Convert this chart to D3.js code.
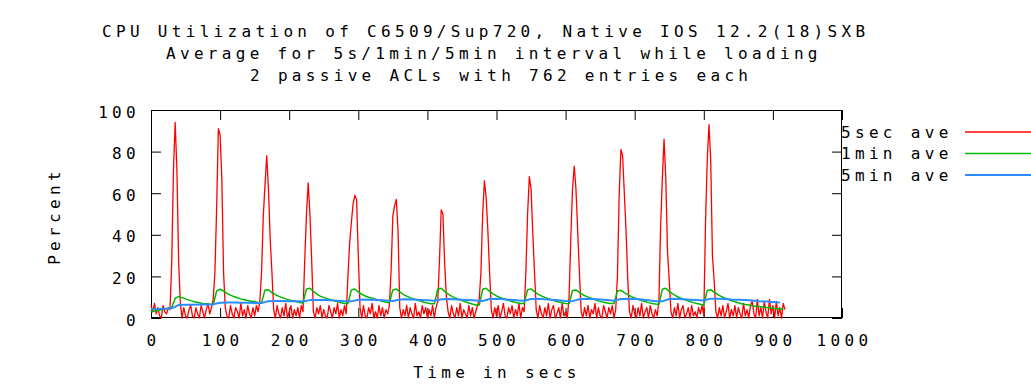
<!DOCTYPE html>
<html><head><meta charset="utf-8">
<script src="https://cdn.jsdelivr.net/npm/d3@7"></script>
<style>
html,body{margin:0;padding:0;background:#fff;}
svg{display:block;}
text{font-family:"DejaVu Sans Mono",monospace;font-size:16px;fill:#000;letter-spacing:4.32px;}
</style></head><body><svg id="c" width="1031" height="384"></svg>
<script>
const titleLines = [
  "CPU Utilization of C6509/Sup720, Native IOS 12.2(18)SXB",
  "Average for 5s/1min/5min interval while loading",
  "2 passive ACLs with 762 entries each"
];
const xLabel = "Time in secs";
const yLabel = "Percent";
const xTicks = [0,100,200,300,400,500,600,700,800,900,1000];
const xTickLabels = ["0","100","200","300","400","500","600","700","800","900","1000"];
const yTicks = [0,20,40,60,80,100];
const yTickLabels = ["0","20","40","60","80","100"];
const seriesNames = ["5sec ave","1min ave","5min ave"];
const seriesColors = ["#ff0000","#00b800","#2a8cff"];
const step5sec = 2.5, step1min = 5, step5min = 10;

// 5-second average, sampled every 2.5 s
const cpu5sec = [
 6,3,7,2,5,1,0,6,3,2,5,4,
 27,71,94,71,27,7,
 0,5,1,0,4,6,1,0,5,2,0,6,3,0,4,7,2,5,9,
 22,53,91,88,67,22,5,
 1,0,6,2,0,5,3,0,7,1,4,0,6,2,0,5,1,6,3,8,
 22,49,64,78,62,38,22,4,
 0,6,2,0,5,1,7,0,3,6,0,4,1,5,0,6,3,
 28,50,65,50,28,3,
 0,5,2,6,0,4,1,0,6,3,0,5,2,7,0,4,1,6,2,
 20,36,46,55,59,57,30,5,
 0,6,1,0,5,2,7,0,3,0,6,1,5,0,4,2,6,
 23,49,54,57,42,5,
 0,4,1,6,0,5,2,0,7,1,3,0,6,2,5,0,4,1,6,0,5,8,
 28,52,50,26,10,3,
 0,6,2,0,5,1,7,0,4,2,0,6,1,5,0,3,6,9,
 22,50,66,58,42,22,4,
 0,5,1,6,0,3,7,1,0,5,2,6,0,4,1,7,0,5,3,
 22,50,68,62,41,22,4,
 0,6,2,0,5,1,7,0,4,6,0,2,5,0,7,1,3,0,10,
 38,62,73,62,42,22,3,
 0,5,1,6,0,4,2,7,0,5,1,0,6,3,0,5,2,6,0,4,
 20,59,81,78,60,42,18,3,
 0,6,2,0,5,1,7,0,3,5,0,6,2,0,4,1,8,
 44,67,86,67,32,18,3,
 0,5,1,7,0,4,6,0,2,5,0,6,1,3,0,5,2,6,1,
 46,76,93,76,30,18,3,
 0,5,1,6,0,3,7,0,4,1,6,0,5,2,0,7,1,4,0,6,8,2,0,9,1,5,0,8,3,0,9,2,6,0,8,1,5,0,7,4
];

// 1-minute average, sampled every 5 s
const cpu1min = [
 3,3.2,3.6,4,4.3,4.6,5,
 9.5,10.3,9.8,9.2,8.6,8.1,7.7,7.3,7,6.8,6.6,6.5,
 13,13.8,13,11.8,11,10.3,9.7,9.2,8.8,8.4,8.1,7.8,7.5,7.3,
 13.5,13.6,12.2,11.2,10.4,9.8,9.2,8.7,8.3,7.9,7.5,7.2,
 14,14.3,12.8,11.5,10.5,9.8,9.3,8.8,8.3,7.8,7.3,7,7,
 13.5,13.9,12.5,11.4,10.6,10,9.5,9,8.5,8,7.6,7.3,
 13.5,13.9,12.6,11.4,10.5,9.8,9.2,8.6,8.1,7.6,7.2,6.9,6.8,
 13.8,14.3,12.8,11.5,10.5,9.7,9,8.4,7.8,7.2,6.7,6.3,6.2,
 13.8,14.3,12.8,11.6,10.6,9.9,9.3,8.7,8.2,7.7,7.3,7,7,
 13.6,14,12.6,11.5,10.6,9.9,9.3,8.7,8.2,7.7,7.3,7,6.9,
 13.2,13.5,12.3,11.2,10.4,9.7,9.1,8.5,8,7.6,7.2,7,7,
 13,13.3,12.2,11.2,10.3,9.6,9,8.4,7.9,7.4,7,6.7,6.5,
 13.8,14.3,12.8,11.6,10.6,9.8,9.1,8.5,7.9,7.4,7,6.6,6.3,
 13.2,13.6,12.4,11.3,10.4,9.6,9,8.4,7.8,7.3,6.9,6.5,6.2,5.9,5.7,5.5,5.3,5.1,4.9,4.7,4.5,4.4,4.3
];

// 5-minute average, sampled every 10 s
const cpu5min = [
 4.2,4.3,4.5,4.7,6.2,6.4,6.4,6.5,6.5,6.6,
 7.3,7.4,7.4,7.3,7.3,7.2,7.2,8.1,8.2,8.2,
 8.1,8.0,7.9,8.6,8.7,8.6,8.5,8.3,8.1,8.0,
 8.8,8.9,8.8,8.6,8.4,8.2,8.9,9.0,8.9,8.7,
 8.5,8.3,9.0,9.1,9.0,8.8,8.6,8.4,8.2,9.1,
 9.2,9.0,8.8,8.5,8.3,9.1,9.2,9.0,8.8,8.5,
 8.2,8.1,9.0,9.2,9.1,8.9,8.6,8.3,9.1,9.2,
 9.1,8.9,8.5,8.1,8.0,9.1,9.2,9.0,8.8,8.6,
 8.4,9.3,9.3,9.1,8.9,8.8,8.6,8.4,8.1,7.9,
 7.7,7.5
];

const svg = d3.select("#c");
const L = 151, R = 842, T = 110, B = 318;
const x = d3.scaleLinear().domain([0,1000]).range([L,R]);
const y = d3.scaleLinear().domain([0,100]).range([B,T]);

// titles
const titleX = [102,166,250];
titleLines.forEach((t,i)=>{
  svg.append("text").attr("x",titleX[i]).attr("y",37+i*22).text(t);
});

// axes (ticks inward, mirrored)
const tk = 10;
const gB = svg.append("g").attr("transform",`translate(0,${B})`)
  .call(d3.axisBottom(x).tickValues(xTicks).tickSize(-tk).tickSizeOuter(0).tickPadding(0)
    .tickFormat((d,i)=>xTickLabels[i]));
const gT = svg.append("g").attr("transform",`translate(0,${T})`)
  .call(d3.axisTop(x).tickValues(xTicks).tickSize(-tk).tickSizeOuter(0).tickFormat(""));
const gLft = svg.append("g").attr("transform",`translate(${L},0)`)
  .call(d3.axisLeft(y).tickValues(yTicks).tickSize(-tk).tickSizeOuter(0).tickPadding(0)
    .tickFormat((d,i)=>yTickLabels[i]));
const gRt = svg.append("g").attr("transform",`translate(${R},0)`)
  .call(d3.axisRight(y).tickValues(yTicks).tickSize(-tk).tickSizeOuter(0).tickFormat(""));
[gB,gT,gLft,gRt].forEach(g=>{
  g.select(".domain").remove();
  g.selectAll(".tick line").attr("stroke","#000").attr("stroke-width",1);
  g.attr("font-family",null).attr("font-size",null);
});
gB.selectAll(".tick text").attr("y",0).attr("dy",null).attr("dx","2").attr("transform","translate(0,28)");
gLft.selectAll(".tick text").attr("x",-11+4.32).attr("dy",null).attr("transform","translate(-4.32,7)");

// border
svg.append("rect").attr("x",L+0.5).attr("y",T+0.5).attr("width",R-L-1).attr("height",B-T-1)
  .attr("fill","none").attr("stroke","#000").attr("stroke-width",1);

// axis labels
svg.append("text").attr("x",497).attr("y",378).attr("text-anchor","middle").text(xLabel);
svg.append("text").attr("transform","translate(60,216) rotate(-90)").attr("text-anchor","middle").text(yLabel);

// series
const series = [
  {vals:cpu5sec, step:step5sec, w:1.3},
  {vals:cpu1min, step:step1min, w:1.5},
  {vals:cpu5min, step:step5min, w:2}
];
series.forEach((s,k)=>{
  const line = d3.line().x((d,i)=>x(i*s.step)).y(d=>y(d));
  svg.append("path").attr("d",line(s.vals)).attr("fill","none")
    .attr("stroke",seriesColors[k]).attr("stroke-width",s.w).attr("stroke-linejoin","round");
});

// legend
seriesNames.forEach((n,k)=>{
  const yy = 132 + k*21.5;
  svg.append("text").attr("x",841).attr("y",yy+5.5).text(n);
  svg.append("line").attr("x1",965).attr("x2",1031).attr("y1",yy).attr("y2",yy)
    .attr("stroke",seriesColors[k]).attr("stroke-width",series[k].w);
});
</script></body></html>
